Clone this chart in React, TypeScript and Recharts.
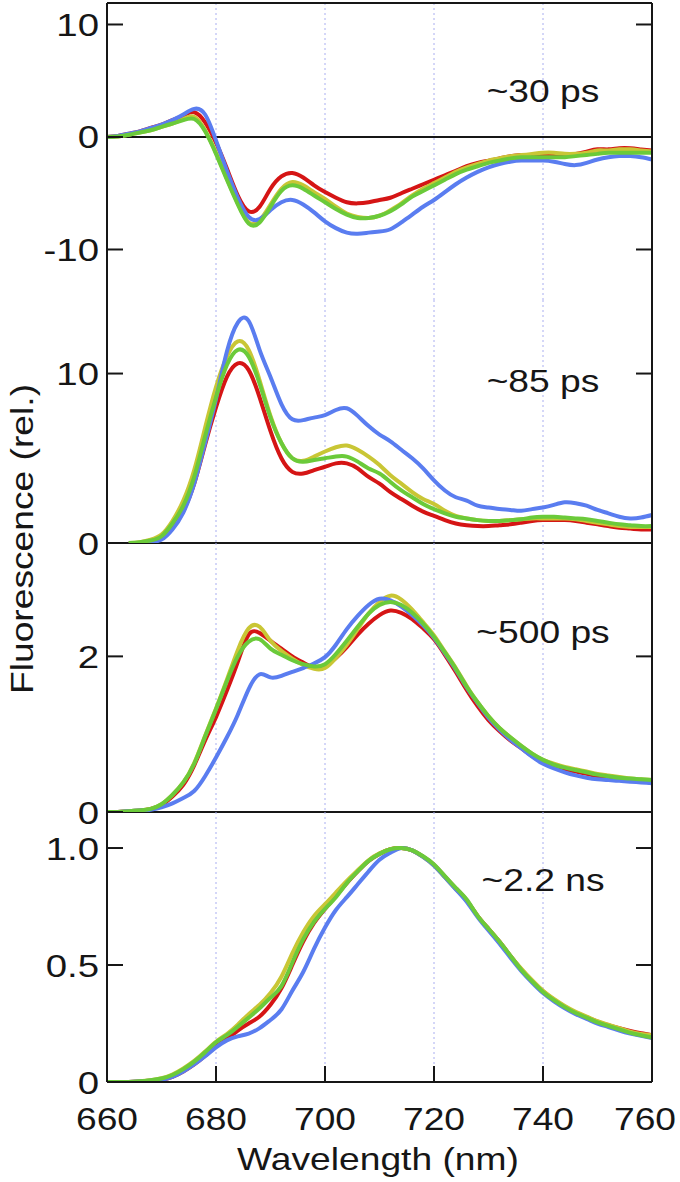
import React from 'react';
import { LineChart, Line, XAxis, YAxis, CartesianGrid, ReferenceLine } from 'recharts';

// wavelength grid (nm)
const wavelengths = [
  660, 662, 664, 666, 668, 670, 672, 674, 676, 678,
  680, 682, 684, 686, 688, 690, 692, 694, 696, 698,
  700, 702, 704, 706, 708, 710, 712, 714, 716, 718,
  720, 722, 724, 726, 728, 730, 732, 734, 736, 738,
  740, 742, 744, 746, 748, 750, 752, 754, 756, 758, 760,
];
const xTicks = [660, 680, 700, 720, 740, 760];
const innerTicks = [680, 700, 720, 740];

const panelLabels = ['~30 ps', '~85 ps', '~500 ps', '~2.2 ns'];

// ~30 ps
const red30 = [0, 0.1, 0.3, 0.5, 0.8, 1.1, 1.5, 1.9, 2.2, 1.3, -0.5, -2.8, -5.2, -6.6, -6.2, -4.6, -3.5, -3.2, -3.6, -4.3, -4.9, -5.4, -5.8, -5.9, -5.8, -5.6, -5.4, -5.0, -4.6, -4.2, -3.8, -3.4, -3.0, -2.6, -2.3, -2.1, -1.9, -1.7, -1.6, -1.6, -1.6, -1.6, -1.6, -1.5, -1.3, -1.1, -1.1, -1.0, -1.0, -1.1, -1.2];
const yellow30 = [0, 0.05, 0.2, 0.4, 0.6, 0.9, 1.2, 1.6, 1.8, 0.6, -1.4, -3.7, -5.9, -7.6, -7.4, -6.0, -4.6, -4.0, -4.3, -4.9, -5.5, -6.2, -6.8, -7.1, -7.2, -7.0, -6.5, -5.9, -5.2, -4.6, -4.1, -3.6, -3.1, -2.7, -2.4, -2.1, -1.9, -1.7, -1.6, -1.5, -1.4, -1.4, -1.5, -1.5, -1.4, -1.2, -1.2, -1.1, -1.1, -1.2, -1.3];
const green30 = [0, 0.05, 0.2, 0.4, 0.6, 0.9, 1.2, 1.5, 1.6, 0.5, -1.5, -3.8, -6.0, -7.7, -7.6, -6.2, -4.8, -4.3, -4.6, -5.2, -5.8, -6.4, -6.9, -7.2, -7.2, -7.0, -6.6, -6.0, -5.3, -4.8, -4.3, -3.8, -3.3, -2.9, -2.6, -2.3, -2.1, -1.9, -1.8, -1.8, -1.8, -1.8, -1.8, -1.7, -1.6, -1.5, -1.4, -1.4, -1.4, -1.4, -1.4];
const blue30 = [0, 0.1, 0.3, 0.5, 0.8, 1.1, 1.5, 2.0, 2.5, 2.0, -0.3, -3.0, -5.4, -7.1, -7.3, -6.5, -5.8, -5.6, -6.0, -6.7, -7.5, -8.1, -8.5, -8.6, -8.5, -8.4, -8.2, -7.6, -6.9, -6.2, -5.6, -4.9, -4.2, -3.6, -3.1, -2.7, -2.4, -2.2, -2.1, -2.1, -2.1, -2.2, -2.4, -2.5, -2.3, -2.0, -1.8, -1.7, -1.7, -1.8, -2.0];

// ~85 ps
const red85 = [null, null, 0, 0, 0.1, 0.3, 0.9, 1.9, 3.5, 5.8, 8.0, 9.8, 10.6, 10.2, 8.6, 6.6, 5.0, 4.2, 4.1, 4.3, 4.5, 4.7, 4.7, 4.4, 3.9, 3.5, 3.0, 2.6, 2.2, 1.85, 1.6, 1.35, 1.15, 1.05, 1.0, 1.0, 1.05, 1.1, 1.2, 1.3, 1.35, 1.35, 1.35, 1.3, 1.2, 1.1, 1.0, 0.9, 0.85, 0.8, 0.8];
const yellow85 = [null, null, 0, 0.05, 0.2, 0.5, 1.3, 2.5, 4.3, 6.8, 9.2, 11.0, 11.9, 11.4, 9.6, 7.5, 5.9, 5.0, 4.85, 5.1, 5.4, 5.65, 5.75, 5.5, 5.1, 4.6, 4.0, 3.5, 3.0, 2.6, 2.3, 1.9, 1.6, 1.45, 1.35, 1.3, 1.3, 1.35, 1.4, 1.45, 1.45, 1.45, 1.45, 1.4, 1.3, 1.2, 1.1, 1.0, 0.95, 0.95, 0.95];
const green85 = [null, null, 0, 0.05, 0.15, 0.4, 1.15, 2.2, 3.9, 6.3, 8.6, 10.5, 11.4, 11.0, 9.4, 7.4, 5.9, 5.0, 4.8, 4.9, 5.0, 5.1, 5.1, 4.8, 4.4, 4.1, 3.6, 3.1, 2.7, 2.3, 2.0, 1.75, 1.55, 1.45, 1.35, 1.3, 1.3, 1.35, 1.4, 1.5, 1.55, 1.55, 1.5, 1.45, 1.4, 1.3, 1.2, 1.1, 1.05, 1.0, 1.0];
const blue85 = [null, null, 0, 0, 0.05, 0.2, 0.8, 1.8, 3.5, 5.9, 8.5, 11.3, 13.0, 13.1, 11.4, 9.8, 8.2, 7.3, 7.25, 7.4, 7.55, 7.85, 7.95, 7.5, 6.9, 6.4, 6.0, 5.5, 5.0, 4.4, 3.7, 3.1, 2.7, 2.5, 2.2, 2.1, 2.0, 1.95, 1.9, 2.0, 2.1, 2.25, 2.4, 2.35, 2.2, 1.95, 1.75, 1.55, 1.45, 1.5, 1.65];

// ~500 ps
const red500 = [0, 0, 0.01, 0.02, 0.04, 0.09, 0.2, 0.35, 0.6, 0.92, 1.22, 1.56, 1.93, 2.28, 2.3, 2.2, 2.1, 2.0, 1.92, 1.86, 1.88, 1.98, 2.12, 2.28, 2.42, 2.53, 2.59, 2.56, 2.48, 2.36, 2.22, 2.02, 1.8, 1.57, 1.36, 1.18, 1.04, 0.92, 0.82, 0.72, 0.64, 0.59, 0.55, 0.52, 0.49, 0.46, 0.44, 0.42, 0.41, 0.4, 0.39];
const yellow500 = [0, 0, 0.01, 0.02, 0.04, 0.1, 0.22, 0.38, 0.63, 0.98, 1.33, 1.7, 2.08, 2.36, 2.38, 2.2, 2.07, 1.97, 1.89, 1.84, 1.85, 1.98, 2.15, 2.35, 2.55, 2.7, 2.78, 2.73, 2.6, 2.44, 2.27, 2.06, 1.85, 1.62, 1.41, 1.23, 1.08, 0.96, 0.85, 0.75, 0.67, 0.62, 0.58, 0.55, 0.52, 0.49, 0.47, 0.45, 0.43, 0.42, 0.41];
const green500 = [0, 0, 0.01, 0.02, 0.04, 0.1, 0.22, 0.38, 0.62, 0.97, 1.32, 1.68, 2.0, 2.19, 2.22, 2.1, 2.02, 1.95, 1.9, 1.87, 1.9, 2.03, 2.2, 2.38, 2.55, 2.66, 2.7, 2.66, 2.56, 2.42, 2.25, 2.05, 1.84, 1.61, 1.41, 1.23, 1.08, 0.96, 0.85, 0.75, 0.67, 0.61, 0.57, 0.54, 0.51, 0.48, 0.46, 0.44, 0.43, 0.42, 0.41];
const blue500 = [0, 0, 0.01, 0.02, 0.03, 0.06, 0.11, 0.18, 0.27, 0.46, 0.7, 0.96, 1.25, 1.58, 1.77, 1.73, 1.75, 1.8, 1.85, 1.91, 1.99, 2.15, 2.35, 2.52, 2.66, 2.74, 2.72, 2.64, 2.53, 2.4, 2.24, 2.04, 1.83, 1.6, 1.4, 1.21, 1.06, 0.93, 0.82, 0.71, 0.62, 0.56, 0.51, 0.47, 0.44, 0.42, 0.41, 0.4, 0.39, 0.38, 0.37];

// ~2.2 ns (normalised)
const red22 = [0, 0, 0, 0.002, 0.005, 0.01, 0.022, 0.045, 0.075, 0.112, 0.152, 0.185, 0.22, 0.25, 0.28, 0.33, 0.4, 0.5, 0.6, 0.68, 0.74, 0.795, 0.85, 0.9, 0.945, 0.975, 0.995, 1.0, 0.99, 0.963, 0.928, 0.878, 0.828, 0.776, 0.71, 0.655, 0.6, 0.54, 0.482, 0.432, 0.388, 0.352, 0.322, 0.297, 0.277, 0.258, 0.243, 0.23, 0.218, 0.208, 0.2];
const yellow22 = [0, 0, 0, 0.003, 0.008, 0.016, 0.032, 0.058, 0.09, 0.13, 0.172, 0.205, 0.245, 0.29, 0.33, 0.38, 0.45, 0.55, 0.64, 0.71, 0.76, 0.81, 0.86, 0.905, 0.948, 0.977, 0.995, 1.0, 0.99, 0.962, 0.925, 0.875, 0.825, 0.775, 0.71, 0.655, 0.6, 0.54, 0.485, 0.435, 0.39, 0.355, 0.325, 0.3, 0.28, 0.26, 0.245, 0.23, 0.215, 0.205, 0.2];
const green22 = [0, 0, 0, 0.003, 0.008, 0.015, 0.03, 0.055, 0.087, 0.127, 0.17, 0.2, 0.236, 0.275, 0.315, 0.36, 0.41, 0.51, 0.61, 0.685, 0.74, 0.79, 0.85, 0.9, 0.945, 0.975, 0.995, 1.0, 0.99, 0.965, 0.93, 0.88, 0.83, 0.78, 0.71, 0.655, 0.6, 0.54, 0.48, 0.43, 0.385, 0.35, 0.32, 0.295, 0.275, 0.255, 0.24, 0.225, 0.21, 0.2, 0.19];
const blue22 = [0, 0, 0, 0.002, 0.005, 0.01, 0.022, 0.045, 0.075, 0.11, 0.148, 0.178, 0.195, 0.207, 0.23, 0.265, 0.31, 0.39, 0.47, 0.57, 0.66, 0.735, 0.79, 0.845, 0.9, 0.95, 0.98, 1.0, 0.99, 0.962, 0.925, 0.875, 0.823, 0.77, 0.705, 0.648, 0.592, 0.532, 0.475, 0.425, 0.38, 0.345, 0.315, 0.29, 0.27, 0.25, 0.235, 0.22, 0.207, 0.197, 0.188];

const FONT = '"Liberation Sans", Arial, Helvetica, sans-serif';
const INK = '#161616';
const RED = '#d51515';
const YELLOW = '#c9c635';
const GREEN = '#6bca3a';
const BLUE = '#5a7df0';
const GRID = '#a9aef0';

const W = 680;
const H = 1182;
const LEFT_W = 107;
const RIGHT_W = 28;
const PAD = 18;
const MARK = 16;
const LMARGIN = 8;
const LINE_W = 4;

type Series = (number | null)[];

interface PanelProps {
  top: number;
  bottom: number;
  domain: [number, number];
  ticks: number[];
  rightTicks: number[];
  fmt: (v: number) => string;
  red: Series;
  yellow: Series;
  green: Series;
  blue: Series;
  first?: boolean;
  last?: boolean;
  zero?: boolean;
}

function Panel(p: PanelProps) {
  const data = wavelengths.map((w, i) => ({
    w,
    red: p.red[i],
    yellow: p.yellow[i],
    green: p.green[i],
    blue: p.blue[i],
  }));

  const chartTop = p.first ? 0 : p.top - PAD;
  const chartBottom = p.last ? H : p.bottom + PAD;
  const axisStyle = { stroke: INK, strokeWidth: 2 };

  return (
    <div style={{ position: 'absolute', left: 0, top: chartTop }}>
      <LineChart
        width={W}
        height={chartBottom - chartTop}
        data={data}
        margin={{ top: p.first ? 0 : PAD, right: 0, bottom: p.last ? 0 : PAD, left: 0 }}
      >
        <CartesianGrid horizontal={false} stroke={GRID} strokeDasharray="2 3" strokeWidth={1} />
        <XAxis
          dataKey="w"
          type="number"
          domain={[660, 760]}
          ticks={xTicks}
          interval={0}
          hide={!p.last}
          height={100}
          axisLine={axisStyle}
          tickLine={false}
          tickSize={0}
          tickMargin={0}
          tick={(t: any) => (
            <g>
              {innerTicks.includes(t.payload.value) && (
                <line x1={t.x} x2={t.x} y1={t.y} y2={t.y - MARK} stroke={INK} strokeWidth={2} />
              )}
              <text
                transform={`translate(${t.payload.value === 760 ? t.x - 7 : t.x},${t.y + 48}) scale(1.2,1)`}
                textAnchor="middle"
                fontFamily={FONT}
                fontSize={31}
                fill={INK}
              >
                {t.payload.value}
              </text>
            </g>
          )}
        />
        {p.first && (
          <XAxis
            xAxisId="top"
            orientation="top"
            type="number"
            domain={[660, 760]}
            ticks={innerTicks}
            interval={0}
            height={3}
            axisLine={axisStyle}
            tickLine={false}
            tickSize={0}
            tickMargin={0}
            tick={(t: any) => (
              <line x1={t.x} x2={t.x} y1={t.y} y2={t.y + MARK} stroke={INK} strokeWidth={2} />
            )}
          />
        )}
        <YAxis
          yAxisId="l"
          type="number"
          domain={p.domain}
          allowDataOverflow
          ticks={p.ticks}
          interval={0}
          width={LEFT_W}
          axisLine={axisStyle}
          tickLine={false}
          tickSize={0}
          tickMargin={LMARGIN}
          tick={(t: any) => (
            <g>
              <line
                x1={t.x + LMARGIN}
                x2={t.x + LMARGIN + MARK}
                y1={t.y}
                y2={t.y}
                stroke={INK}
                strokeWidth={2}
              />
              <text
                transform={`translate(${t.x},${t.y + 11.5}) scale(1.2,1)`}
                textAnchor="end"
                fontFamily={FONT}
                fontSize={32}
                fill={INK}
              >
                {p.fmt(t.payload.value)}
              </text>
            </g>
          )}
        />
        <YAxis
          yAxisId="r"
          orientation="right"
          type="number"
          domain={p.domain}
          allowDataOverflow
          ticks={p.rightTicks}
          interval={0}
          width={RIGHT_W}
          axisLine={axisStyle}
          tickLine={false}
          tickSize={0}
          tickMargin={0}
          tick={(t: any) => (
            <line x1={t.x - MARK} x2={t.x} y1={t.y} y2={t.y} stroke={INK} strokeWidth={2} />
          )}
        />
        {p.zero && <ReferenceLine yAxisId="l" y={0} stroke={INK} strokeWidth={2} />}
        <Line yAxisId="l" type="natural" dataKey="red" stroke={RED} strokeWidth={LINE_W} dot={false} isAnimationActive={false} />
        <Line yAxisId="l" type="natural" dataKey="yellow" stroke={YELLOW} strokeWidth={LINE_W} dot={false} isAnimationActive={false} />
        <Line yAxisId="l" type="natural" dataKey="blue" stroke={BLUE} strokeWidth={LINE_W} dot={false} isAnimationActive={false} />
        <Line yAxisId="l" type="natural" dataKey="green" stroke={GREEN} strokeWidth={LINE_W} dot={false} isAnimationActive={false} />
      </LineChart>
    </div>
  );
}

const intFmt = (v: number) => String(v);
const decFmt = (v: number) => (v === 0 ? '0' : v.toFixed(1));

// label baselines for the four panels
const labelY = [102, 392, 643, 891];

export default function App() {
  return (
    <div style={{ position: 'absolute', left: 0, top: 0, width: W, height: H, background: '#fff' }}>
      <Panel
        top={3}
        bottom={300}
        domain={[-14.49, 11.91]}
        ticks={[10, 0, -10]}
        rightTicks={[10, -10]}
        fmt={intFmt}
        red={red30}
        yellow={yellow30}
        green={green30}
        blue={blue30}
        first
        zero
      />
      <Panel
        top={300}
        bottom={543}
        domain={[0, 14.34]}
        ticks={[10, 0]}
        rightTicks={[10]}
        fmt={intFmt}
        red={red85}
        yellow={yellow85}
        green={green85}
        blue={blue85}
        zero
      />
      <Panel
        top={543}
        bottom={812}
        domain={[0, 3.457]}
        ticks={[2, 0]}
        rightTicks={[2]}
        fmt={intFmt}
        red={red500}
        yellow={yellow500}
        green={green500}
        blue={blue500}
        zero
      />
      <Panel
        top={812}
        bottom={1082}
        domain={[0, 1.154]}
        ticks={[1, 0.5, 0]}
        rightTicks={[1, 0.5]}
        fmt={decFmt}
        red={red22}
        yellow={yellow22}
        green={green22}
        blue={blue22}
        last
      />
      <svg
        width={W}
        height={H}
        style={{ position: 'absolute', left: 0, top: 0, pointerEvents: 'none' }}
      >
        <text
          transform="translate(33,539) rotate(-90) scale(1.2,1)"
          textAnchor="middle"
          fontFamily={FONT}
          fontSize={31}
          fill={INK}
        >
          Fluorescence (rel.)
        </text>
        <text
          transform="translate(378,1170) scale(1.2,1)"
          textAnchor="middle"
          fontFamily={FONT}
          fontSize={31}
          fill={INK}
        >
          Wavelength (nm)
        </text>
        {panelLabels.map((s, i) => (
          <text
            key={s}
            transform={`translate(543,${labelY[i]}) scale(1.2,1)`}
            textAnchor="middle"
            fontFamily={FONT}
            fontSize={31}
            fill={INK}
          >
            {s}
          </text>
        ))}
      </svg>
    </div>
  );
}
